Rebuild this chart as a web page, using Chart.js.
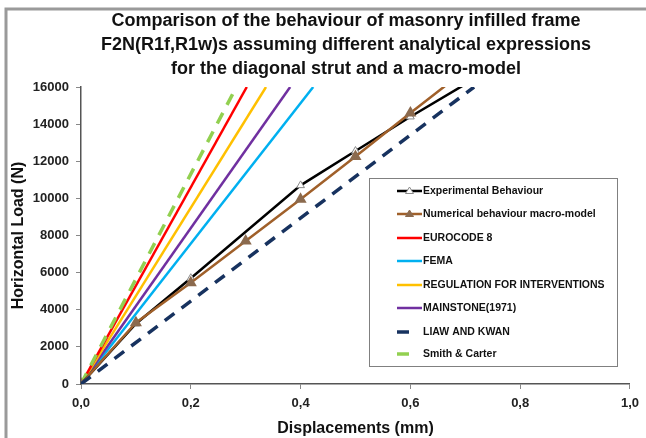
<!DOCTYPE html>
<html>
<head>
<meta charset="utf-8">
<script src="https://cdn.jsdelivr.net/npm/chart.js@4/dist/chart.umd.min.js"></script>
<style>
  html, body { margin: 0; padding: 0; background: #fff; }
  #wrap { position: relative; width: 646px; height: 438px; }
</style>
</head>
<body>
<div id="wrap"><canvas id="c" width="646" height="438"></canvas></div>
<script>
// ---- Data ----
const titleLines = [
  "Comparison of the behaviour of masonry infilled frame",
  "F2N(R1f,R1w)s assuming different analytical expressions",
  "for the diagonal strut and a macro-model"
];
const xAxisTitle = "Displacements (mm)";
const yAxisTitle = "Horizontal Load (N)";

const expX = [0, 0.1, 0.2, 0.4, 0.5, 0.6, 0.7];
const expY = [0, 3250, 5700, 10700, 12550, 14400, 16150];

const numX = [0, 0.1, 0.2, 0.3, 0.4, 0.5, 0.6, 0.7];
const numY = [0, 3300, 5450, 7700, 9950, 12250, 14600, 16900];

const ec8X = [0, 0.302];       const ec8Y = [0, 16000];
const femaX = [0, 0.423];      const femaY = [0, 16000];
const regX = [0, 0.337];       const regY = [0, 16000];
const mainX = [0, 0.381];      const mainY = [0, 16000];
const liawX = [0, 0.716];      const liawY = [0, 16000];
const smithX = [0, 0.283];     const smithY = [0, 16000];

const seriesNames = [
  "Experimental Behaviour",
  "Numerical behaviour macro-model",
  "EUROCODE 8",
  "FEMA",
  "REGULATION FOR INTERVENTIONS",
  "MAINSTONE(1971)",
  "LIAW AND KWAN",
  "Smith & Carter"
];

const xTicks = [0, 0.2, 0.4, 0.6, 0.8, 1.0];

function pts(xs, ys) { return xs.map((x, i) => ({ x: x, y: ys[i] })); }

const FONT = "'Liberation Sans', Arial, sans-serif";

const datasets = [
  { label: seriesNames[0], data: pts(expX, expY), borderColor: '#000000', borderWidth: 2.5,
    pointStyle: 'triangle', pointRadius: 4.5, pointBackgroundColor: '#ffffff', pointBorderColor: '#8a8a8a', pointBorderWidth: 1, order: 2 },
  { label: seriesNames[1], data: pts(numX, numY), borderColor: '#A0602A', borderWidth: 2.5,
    pointStyle: 'triangle', pointRadius: 4.5, pointBackgroundColor: '#8B6A4E', pointBorderColor: '#8B6A4E', order: 1 },
  { label: seriesNames[2], data: pts(ec8X, ec8Y), borderColor: '#FF0000', borderWidth: 2.5, pointRadius: 0, order: 4 },
  { label: seriesNames[3], data: pts(femaX, femaY), borderColor: '#00B0F0', borderWidth: 2.5, pointRadius: 0, order: 7 },
  { label: seriesNames[4], data: pts(regX, regY), borderColor: '#FFC000', borderWidth: 2.5, pointRadius: 0, order: 5 },
  { label: seriesNames[5], data: pts(mainX, mainY), borderColor: '#7030A0', borderWidth: 2.5, pointRadius: 0, order: 6 },
  { label: seriesNames[6], data: pts(liawX, liawY), borderColor: '#17325F', borderWidth: 3.5, borderDash: [12, 9], pointRadius: 0, order: 0 },
  { label: seriesNames[7], data: pts(smithX, smithY), borderColor: '#92D050', borderWidth: 3.5, borderDash: [12, 9], pointRadius: 0, order: 3 }
];
datasets.forEach(d => { d.showLine = true; d.fill = false; d.tension = 0; d.borderCapStyle = 'butt'; });

const decorPlugin = {
  id: 'decor',
  beforeDraw(chart) {
    const ctx = chart.ctx;
    ctx.save();
    ctx.fillStyle = '#ffffff';
    ctx.fillRect(0, 0, chart.width, chart.height);
    ctx.strokeStyle = '#9a9a9a';
    ctx.lineWidth = 3;
    ctx.strokeRect(6, 9, 800, 600);
    // title
    ctx.fillStyle = '#111';
    ctx.font = "bold 18px " + FONT;
    ctx.textAlign = 'center';
    ctx.textBaseline = 'middle';
    const ys = [21, 45, 69];
    titleLines.forEach((t, i) => ctx.fillText(t, 346, ys[i]));
    ctx.restore();
  },
  afterDraw(chart) {
    const ctx = chart.ctx;
    ctx.save();
    // legend box
    const bx = 369.5, by = 178.5, bw = 248, bh = 188;
    ctx.fillStyle = '#ffffff';
    ctx.fillRect(bx, by, bw, bh);
    ctx.strokeStyle = '#808080';
    ctx.lineWidth = 1;
    ctx.strokeRect(bx, by, bw, bh);
    const rowY = [191, 214, 238, 261, 285, 308, 332, 354];
    ctx.font = "bold 10.5px " + FONT;
    ctx.textBaseline = 'middle';
    ctx.textAlign = 'left';
    chart.data.datasets.forEach((ds, i) => {
      const y = rowY[i];
      ctx.strokeStyle = ds.borderColor;
      ctx.lineWidth = ds.borderDash ? 3.5 : 2.5;
      ctx.beginPath();
      if (ds.borderDash) { ctx.moveTo(397, y); ctx.lineTo(409, y); }
      else { ctx.moveTo(397, y); ctx.lineTo(422, y); }
      ctx.stroke();
      if (ds.pointRadius) {
        ctx.fillStyle = ds.pointBackgroundColor;
        ctx.strokeStyle = ds.pointBorderColor;
        ctx.lineWidth = 1;
        ctx.beginPath();
        ctx.moveTo(409.5, y - 4); ctx.lineTo(413.5, y + 2.5); ctx.lineTo(405.5, y + 2.5); ctx.closePath();
        ctx.fill(); ctx.stroke();
      }
      ctx.fillStyle = '#111';
      ctx.fillText(ds.label, 423, y);
    });
    ctx.restore();
  }
};

new Chart(document.getElementById('c'), {
  type: 'scatter',
  data: { datasets: datasets },
  options: {
    responsive: false,
    animation: false,
    layout: { padding: { top: 87, left: 0, right: 16, bottom: 0 } },
    plugins: { legend: { display: false }, title: { display: false }, tooltip: { enabled: false } },
    scales: {
      x: {
        type: 'linear', min: 0, max: 1,
        afterBuildTicks(scale) { scale.ticks = xTicks.map(v => ({ value: v })); },
        afterFit(scale) { scale.height = 54; },
        ticks: { color: '#222', font: { family: FONT, size: 13, weight: 'bold' }, padding: 7,
          callback: v => v.toFixed(1).replace('.', ',') },
        grid: { drawOnChartArea: false, drawTicks: true, tickLength: 5, color: '#888' },
        border: { display: true, color: '#555', width: 1.5 },
        title: { display: true, text: xAxisTitle, color: '#111', font: { family: FONT, size: 16, weight: 'bold' }, padding: { top: 2, bottom: 0 } }
      },
      y: {
        type: 'linear', min: 0, max: 16000,
        ticks: { stepSize: 2000, color: '#222', font: { family: FONT, size: 13, weight: 'bold' }, padding: 7,
          callback: v => String(v) },
        afterFit(scale) { scale.width = 81; },
        grid: { drawOnChartArea: false, drawTicks: true, tickLength: 5, color: '#888' },
        border: { display: true, color: '#555', width: 1.5 },
        title: { display: true, text: yAxisTitle, color: '#111', font: { family: FONT, size: 16, weight: 'bold' }, padding: { top: 9, bottom: 0 } }
      }
    }
  },
  plugins: [decorPlugin]
});
</script>
</body>
</html>
